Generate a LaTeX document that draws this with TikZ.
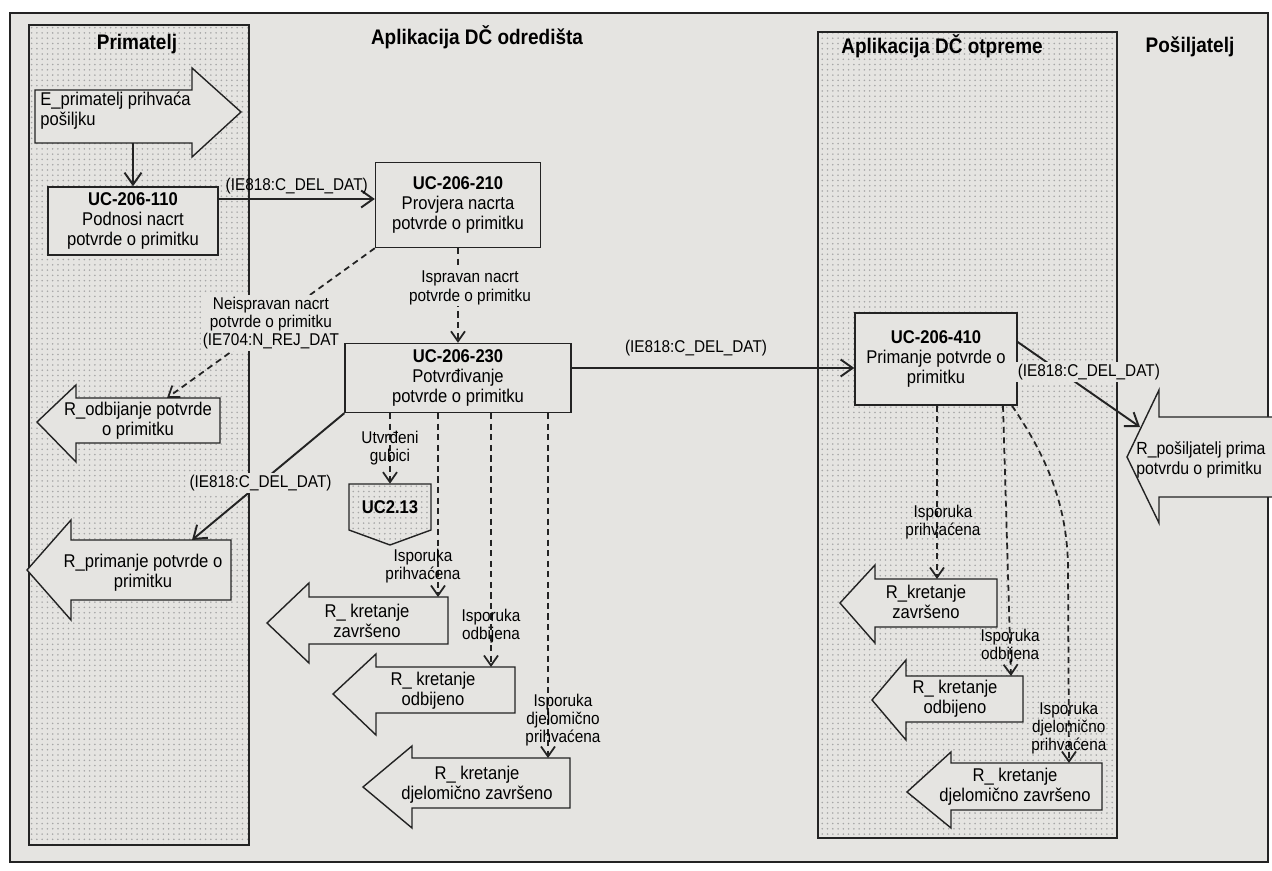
\documentclass[tikz,border=0pt]{standalone}
\usepackage{fontspec}
\setmainfont{Liberation Sans}[FakeStretch=0.9]
\usetikzlibrary{arrows.meta,patterns}
\definecolor{paper}{RGB}{229,228,225}
\definecolor{ink}{RGB}{35,35,35}

\begin{document}
\begin{tikzpicture}[x=0.02cm, y=-0.02cm]
	\tikzstyle{lane} = [
		draw=ink, line width=0.8pt, pattern=dots, pattern color=black!35
	]
	\tikzstyle{title} = [
		font=\fontsize{12}{14}\selectfont\bfseries
	]
	\tikzstyle{uc} = [
		rectangle, draw=ink, fill=paper, line width=0.8pt, align=center, inner sep=2pt,
		font=\fontsize{10.5}{11.4}\selectfont
	]
	\tikzstyle{evt} = [
		draw=ink, fill=paper, line width=0.8pt
	]
	\tikzstyle{evtext} = [
		align=center, inner sep=0pt, font=\fontsize{10.5}{11.4}\selectfont
	]
	\tikzstyle{lbl} = [
		align=center, inner sep=1pt, fill=paper, font=\fontsize{9.7}{10.3}\selectfont
	]
	\tikzstyle{lbl_t} = [
		lbl, fill=none
	]
	\tikzstyle{conn} = [
		draw=ink, line width=1.1pt, -{Straight Barb[length=2.4mm, width=3.4mm]}
	]
	\tikzstyle{dconn} = [
		draw=ink, line width=1pt, dash pattern=on 3.5pt off 2.5pt, -{Straight Barb[length=2mm, width=2.8mm]}
	]

	% Page
	\useasboundingbox (0,0) rectangle (1272,871);
	\fill[white] (0,0) rectangle (1272,871);
	\fill[paper] (10,13) rectangle (1268,862);
	\draw[ink, line width=0.9pt] (10,13) rectangle (1268,862);

	% Lanes
	\draw[lane] (29,25) rectangle (249,845);
	\draw[lane] (818,32) rectangle (1117,838);
	\node (t_prim) [title] at (137,44) {Primatelj};
	\node (t_odr)  [title] at (477,37) {Aplikacija DČ odredišta};
	\node (t_otp)  [title] at (942,46) {Aplikacija DČ otpreme};
	\node (t_pos)  [title] at (1190,47) {Pošiljatelj};

	% Use cases
	\node (uc110) [uc, minimum width=3.4cm, minimum height=1.36cm] at (133,221) {\textbf{UC-206-110}\\Podnosi nacrt\\potvrde o primitku};
	\node (uc210) [uc, minimum width=3.3cm, minimum height=1.7cm] at (458,205) {\textbf{UC-206-210}\\Provjera nacrta\\potvrde o primitku};
	\node (uc230) [uc, minimum width=4.52cm, minimum height=1.38cm] at (458,378) {\textbf{UC-206-230}\\Potvrđivanje\\potvrde o primitku};
	\node (uc410) [uc, minimum width=3.24cm, minimum height=1.84cm] at (936,359) {\textbf{UC-206-410}\\Primanje potvrde o\\primitku};

	% UC2.13 connector
	\draw[ink, line width=0.8pt, pattern=dots, pattern color=black!35] (349,484) -- (431,484) -- (431,530) -- (390,545) -- (349,530) -- cycle;
	\node (uc213) [minimum width=1.64cm, minimum height=0.92cm, inner sep=0pt, font=\fontsize{10.5}{12}\selectfont\bfseries] at (390,507) {UC2.13};

	% E_primatelj (in)
	\draw[evt] (35,90) -- (192,90) -- (192,68) -- (241,112) -- (192,157) -- (192,143) -- (35,143) -- cycle;
	\node (eprim) [evtext, anchor=west, align=left] at (40,111) {E\_primatelj prihvaća\\pošiljku};
	\coordinate (eprim_out) at (133,143);

	% R_ results, Primatelj
	\draw[evt] (220,398) -- (76,398) -- (76,385) -- (37,422) -- (76,462) -- (76,443) -- (220,443) -- cycle;
	\node (rodb) [evtext] at (138,421) {R\_odbijanje potvrde\\o primitku};
	\coordinate (rodb_in) at (167,398);

	\draw[evt] (231,540) -- (71,540) -- (71,520) -- (27,570) -- (71,620) -- (71,600) -- (231,600) -- cycle;
	\node (rprim) [evtext] at (143,573) {R\_primanje potvrde o\\primitku};
	\coordinate (rprim_in) at (192,540);

	% R_ results, odredista
	\draw[evt] (448,597) -- (309,597) -- (309,583) -- (267,623) -- (309,663) -- (309,644) -- (448,644) -- cycle;
	\node (rkz1) [evtext] at (367,621) {R\_ kretanje\\završeno};
	\coordinate (rkz1_in) at (438,597);

	\draw[evt] (515,667) -- (376,667) -- (376,654) -- (333,694) -- (376,735) -- (376,713) -- (515,713) -- cycle;
	\node (rko1) [evtext] at (433,691) {R\_ kretanje\\odbijeno};
	\coordinate (rko1_in) at (491,667);

	\draw[evt] (570,758) -- (412,758) -- (412,746) -- (363,787) -- (412,828) -- (412,808) -- (570,808) -- cycle;
	\node (rkdz1) [evtext] at (477,785) {R\_ kretanje\\djelomično završeno};
	\coordinate (rkdz1_in) at (548,758);

	% R_ results, otpreme / Posiljatelj
	\draw[evt] (1300,417) -- (1159,417) -- (1159,390) -- (1127,457) -- (1159,523) -- (1159,497) -- (1300,497) -- cycle;
	\node (rpos) [evtext, anchor=west, align=left, font=\fontsize{10}{11.4}\selectfont] at (1136,460) {R\_pošiljatelj prima\\potvrdu o primitku};
	\coordinate (rpos_in) at (1140,427);

	\draw[evt] (997,579) -- (875,579) -- (875,565) -- (840,603) -- (875,643) -- (875,627) -- (997,627) -- cycle;
	\node (rkz2) [evtext] at (926,602) {R\_kretanje\\završeno};
	\coordinate (rkz2_in) at (937,579);

	\draw[evt] (1023,676) -- (906,676) -- (906,660) -- (872,700) -- (906,740) -- (906,722) -- (1023,722) -- cycle;
	\node (rko2) [evtext] at (955,699) {R\_ kretanje\\odbijeno};
	\coordinate (rko2_in) at (1011,676);

	\draw[evt] (1102,763) -- (951,763) -- (951,752) -- (907,792) -- (951,828) -- (951,810) -- (1102,810) -- cycle;
	\node (rkdz2) [evtext] at (1015,787) {R\_ kretanje\\djelomično završeno};
	\coordinate (rkdz2_in) at (1069,763);

	% Primatelj -> odredista
	\draw[conn] (eprim_out) -- (uc110);
	\draw[conn] ([yshift=0.44cm]uc110.east) -- node[lbl_t, above=1pt] (l_del1) {(IE818:C\_DEL\_DAT)} ([yshift=0.44cm]uc110.east -| uc210.west);

	% odredista internal
	\draw[dconn] (uc210.south west) -- node[lbl] (l_rej) {Neispravan nacrt\\potvrde o primitku\\(IE704:N\_REJ\_DAT} (rodb_in);
	\draw[dconn] (uc210.south) -- node[lbl, pos=0.42, xshift=0.24cm] (l_isp) {Ispravan nacrt\\potvrde o primitku} (uc230.north);
	\draw[conn] (uc230.south west) -- node[lbl, pos=0.55] (l_del3) {(IE818:C\_DEL\_DAT)} (rprim_in);
	\draw[dconn] (uc230.south -| uc213.north) -- node[lbl_t] (l_gub) {Utvrđeni\\gubici} (uc213.north);
	\draw[dconn] (uc230.south -| rkz1_in) -- node[lbl_t, pos=0.83, xshift=-0.3cm] (l_pr1) {Isporuka\\prihvaćena} (rkz1_in);
	\draw[dconn] (uc230.south -| rko1_in) -- node[lbl_t, pos=0.84] (l_odb1) {Isporuka\\odbijena} (rko1_in);
	\draw[dconn] (uc230.south -| rkdz1_in) -- node[lbl_t, pos=0.89, xshift=0.3cm] (l_dj1) {Isporuka\\djelomično\\prihvaćena} (rkdz1_in);

	% odredista -> otpreme
	\draw[conn] ([yshift=0.2cm]uc230.east) -- node[lbl_t, pos=0.44, above=5pt] (l_del2) {(IE818:C\_DEL\_DAT)} ([yshift=0.2cm]uc230.east -| uc410.west);

	% otpreme -> Posiljatelj
	\draw[conn] ([yshift=0.34cm]uc410.east) -- node[lbl, xshift=0.2cm, yshift=0.25cm] (l_del4) {(IE818:C\_DEL\_DAT)} (rpos_in);

	% otpreme internal
	\draw[dconn] (uc410.south -| rkz2_in) -- node[lbl_t, pos=0.67, xshift=0.12cm] (l_pr2) {Isporuka\\prihvaćena} (rkz2_in);
	\draw[dconn] ([xshift=1.34cm]uc410.south) -- node[lbl_t, pos=0.89] (l_odb2) {Isporuka\\odbijena} (rko2_in);
	\draw[dconn] ([xshift=1.52cm]uc410.south) .. controls (1042,450) and (1068,500) .. (1068,570) -- node[lbl_t, pos=0.82] (l_dj2) {Isporuka\\djelomično\\prihvaćena} (rkdz2_in);

\end{tikzpicture}
\end{document}
